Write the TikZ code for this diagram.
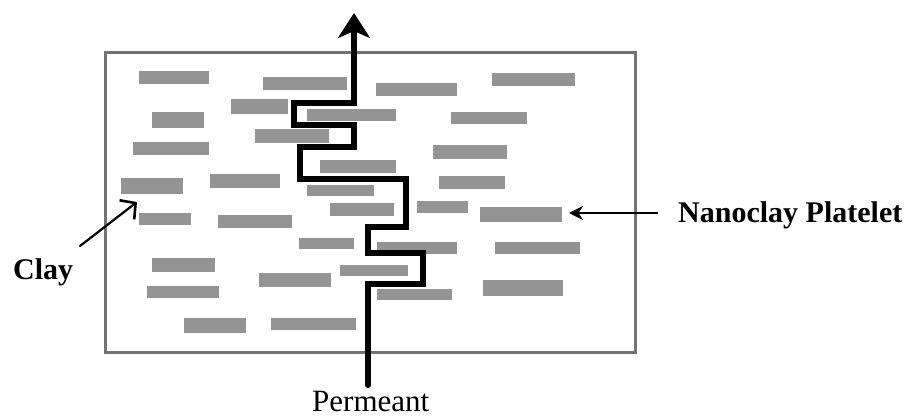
\documentclass[tikz,border=0pt]{standalone}
\usepackage{fontspec}
\setmainfont{Liberation Serif}
\usetikzlibrary{arrows.meta}
\begin{document}
\begin{tikzpicture}[x=1pt,y=-1pt,
  platelet/.style={fill=black!42},
  frame/.style={draw=black!55,line width=3pt},
  path/.style={draw=black,line width=6pt,line join=miter,line cap=round,
    -{Stealth[length=25pt,width=32pt,inset=7pt]}},
  pointer/.style={draw=black,line width=2pt,-{Stealth[length=14pt,width=14pt]}},
  clayptr/.style={draw=black,line width=2.2pt,line cap=round,-{Straight Barb[length=11pt,width=24pt,line width=2.6pt]}},
  lbl/.style={inner sep=0pt,font=\fontsize{30}{30}\selectfont\bfseries},
  plbl/.style={inner sep=0pt,font=\fontsize{31}{31}\selectfont}]
\useasboundingbox (0,0) rectangle (916,419);
% frame
\draw[frame] (105,53) rectangle (635,353);
% platelets
\foreach \a/\b/\c/\d in {
 139/71/209/84, 263/77/347/90, 376/83/457/96, 492/73/575/86,
 231/99/288/114, 307/109/396/121, 152/112/204/128, 451/112/527/124,
 255/129/329/143, 133/142/209/155, 433/145/507/159, 320/160/396/173,
 210/174/280/188, 121/178/183/194, 307/185/374/196, 439/176/505/189,
 139/213/191/225, 218/215/292/228, 330/203/394/216, 417/201/468/213,
 480/207/562/222, 299/238/354/249, 377/242/457/254, 495/242/580/254,
 152/258/215/272, 340/265/408/276, 259/273/331/287, 483/280/563/296,
 147/286/219/298, 377/289/452/300, 184/318/246/333, 271/318/356/330}
 \fill[platelet] (\a,\b) rectangle (\c,\d);
% permeant path
\coordinate (pstart) at (368,385);
\coordinate (pend) at (354,13);
\draw[path] (pstart) -- (368,284) -- (423,284) -- (423,253) -- (368,253)
  -- (368,227) -- (406,227) -- (406,179) -- (300,179) -- (300,147)
  -- (354,147) -- (354,125) -- (294,125) -- (294,103) -- (354,103) -- (pend);
% labels
\node[plbl,anchor=base west] (perm) at (312,412) {Permeant};
\node[lbl,anchor=base west] (nano) at (678,223) {Nanoclay Platelet};
\node[lbl,anchor=base west] (clay) at (13,280) {Clay};
% pointers
\coordinate (nanofrom) at (658,213);
\coordinate (nanoto) at (569,213);
\draw[pointer] (nanofrom) -- (nanoto);
\coordinate (clayfrom) at (80,246);
\coordinate (clayto) at (137,202);
\draw[clayptr] (clayfrom) -- (clayto);
\end{tikzpicture}
\end{document}
